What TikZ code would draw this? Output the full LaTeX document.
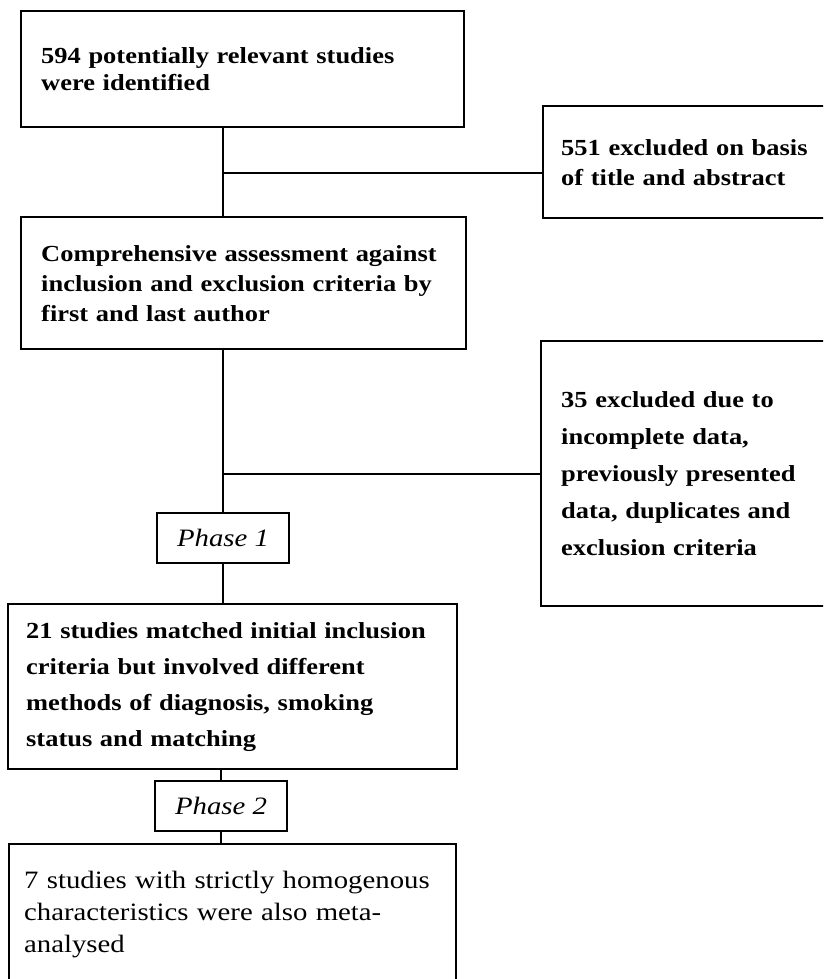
\documentclass[tikz,border=0pt]{standalone}
\usepackage{fontspec}
\setmainfont{Liberation Serif}[FakeStretch=1.15]
\usetikzlibrary{positioning}

\begin{document}
\begin{tikzpicture}[
						x=1pt,
						y=-1pt,
						line width=2pt,
						stage/.style={draw, rectangle, line width=2.4pt, anchor=north west, align=left, inner xsep=20pt, inner ysep=0pt},
						heavy/.style={font=\bfseries\fontsize{23}{#1}\selectfont},
						phase/.style={draw, rectangle, line width=2.4pt, inner sep=0pt, minimum width=132pt, minimum height=50pt, font=\itshape\fontsize{25}{28}\selectfont}
					]
					\useasboundingbox (0,0) rectangle (823,979);
					\clip (0,0) rectangle (823,979);
					\node[stage, heavy=27, text width=403pt, minimum height=116pt] (found) at (20,10) {594 potentially relevant studies\\were identified};
					\node[stage, heavy=30, inner xsep=18pt, text width=304pt, minimum height=112pt] (excl1) at (542,105) {551 excluded on basis\\of title and abstract};
					\node[stage, heavy=30, text width=405pt, minimum height=132pt] (assess) at (20,216) {Comprehensive assessment against\\inclusion and exclusion criteria by\\first and last author};
					\node[stage, heavy=37, text width=300pt, minimum height=265pt] (excl2) at (540,340) {35 excluded due to\\incomplete data,\\previously presented\\data, duplicates and\\exclusion criteria};
					\node[phase] (phase1) at (223,538) {Phase 1};
					\node[stage, heavy=36, inner xsep=18pt, text width=413pt, minimum height=165pt] (matched) at (7,603) {21 studies matched initial inclusion\\criteria but involved different\\methods of diagnosis, smoking\\status and matching};
					\node[phase] (phase2) at (221,806) {Phase 2};
					\node[stage, inner xsep=15pt, text width=417pt, minimum height=140pt, font=\fontsize{25}{32}\selectfont] (meta) at (8,843) {7 studies with strictly homogenous\\characteristics were also meta-\\analysed};
					\coordinate (split1) at (223,173);
					\draw (found.south -| phase1) -- (assess.north -| phase1);
					\draw (split1) -- (split1 -| excl1.west);
					\draw (assess.south -| phase1) -- (phase1.north);
					\draw (excl2.west -| phase1) -- (excl2.west);
					\draw (phase1.south) -- (matched.north -| phase1);
					\draw (matched.south -| phase2) -- (phase2.north);
					\draw (phase2.south) -- (meta.north -| phase2);
				\end{tikzpicture}
\end{document}
